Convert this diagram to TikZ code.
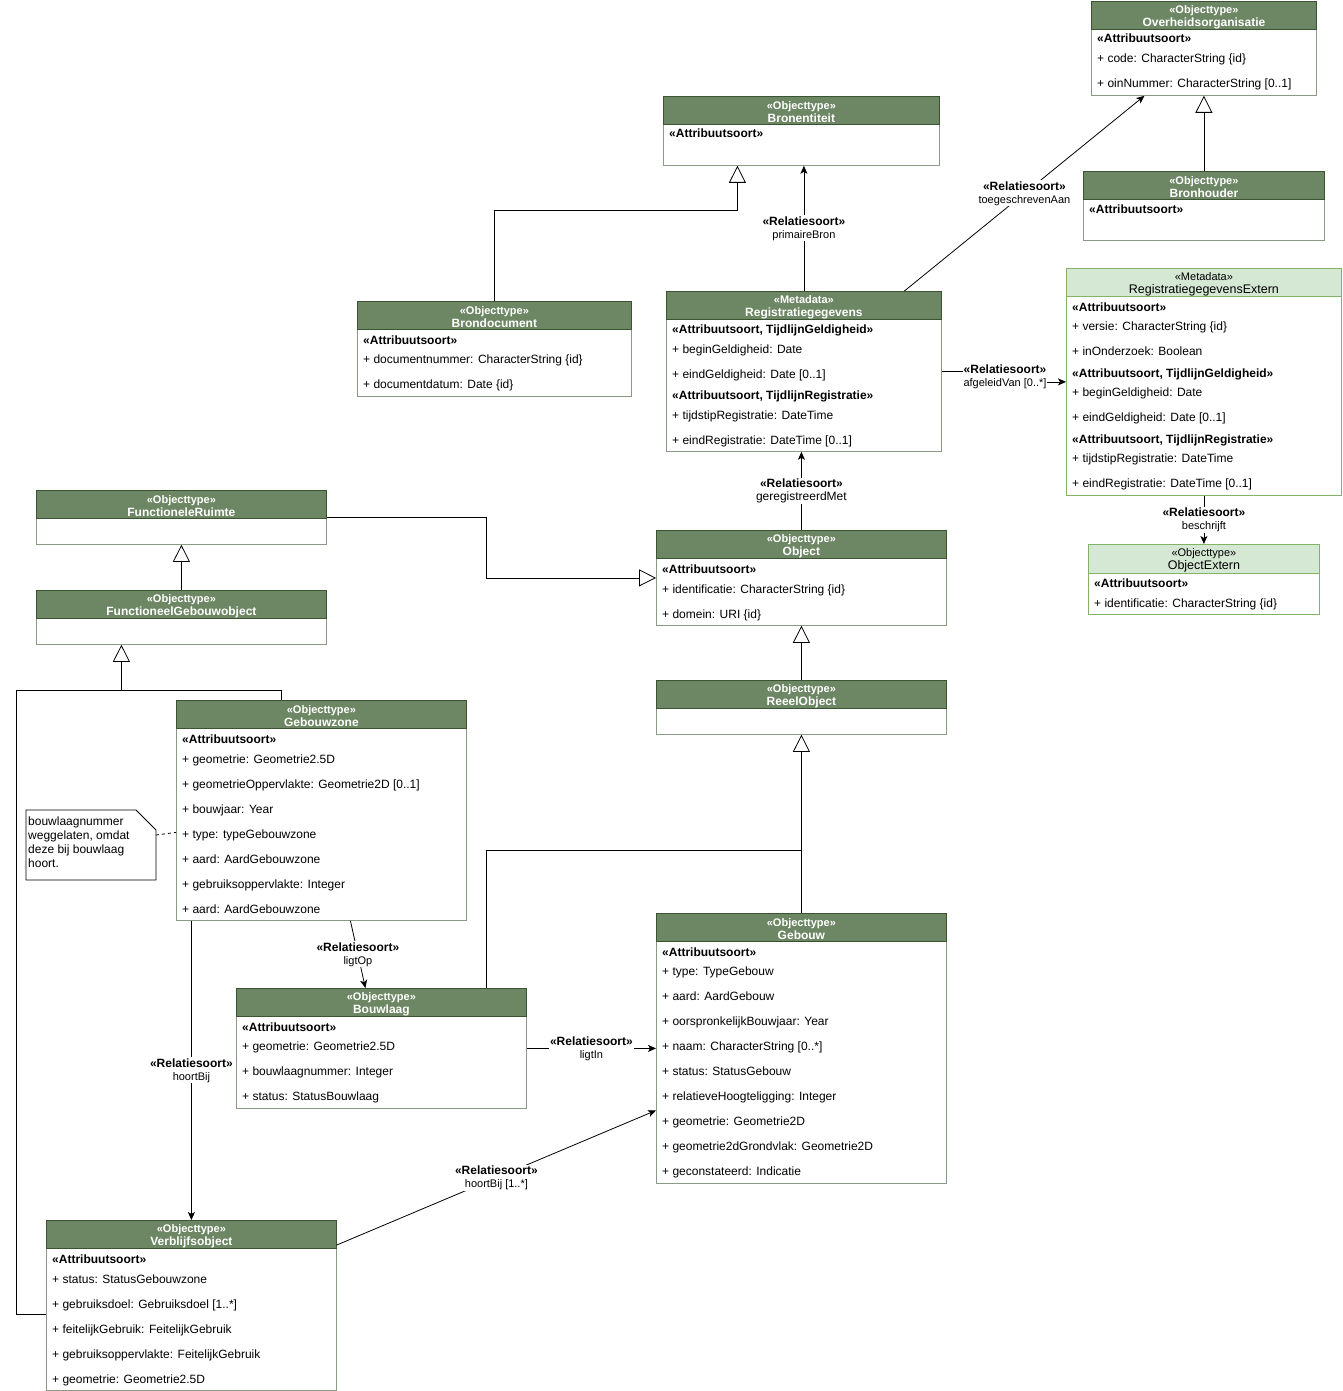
\documentclass[tikz,border=0pt]{standalone}
\usepackage{fontspec}
\setmainfont{Liberation Sans}
\usetikzlibrary{arrows.meta}
\definecolor{hdrfill}{HTML}{6D8764}
\definecolor{hdrline}{HTML}{3A5431}
\definecolor{boxline}{HTML}{8A9A85}
\definecolor{extfill}{HTML}{D5E8D4}
\definecolor{extline}{HTML}{82B366}
\newcommand{\umlhead}[2]{\rule{0pt}{11pt}«#1»\\{\fontsize{12}{13}\selectfont #2}}
\newcommand{\exthead}[2]{\rule{0pt}{11pt}«#1»\\{\fontsize{12.5}{13}\selectfont #2}}
\newcommand{\rellabel}[1]{\textbf{«Relatiesoort»}\\{\fontsize{11}{12}\selectfont #1}}
\begin{document}
\begin{tikzpicture}[x=1pt,y=-1pt,
  box/.style={draw=boxline,fill=white,line width=0.8pt,anchor=north west,inner sep=0pt},
  hdr/.style={draw=hdrline,fill=hdrfill,text=white,line width=0.8pt,anchor=north west,
              inner sep=0pt,minimum height=28pt,align=center,font=\bfseries\fontsize{11}{13}\selectfont},
  extbox/.style={box,draw=extline},
  exthdr/.style={hdr,draw=extline,fill=extfill,text=black,font=\fontsize{11}{13}\selectfont},
  stype/.style={anchor=base west,inner sep=0pt,yshift=-4pt,font=\bfseries\fontsize{12}{14}\selectfont},
  attr/.style={anchor=base west,inner sep=0pt,yshift=-4pt,font=\fontsize{12}{14}\selectfont},
  rel/.style={fill=white,align=center,inner sep=1pt,font=\fontsize{12}{13}\selectfont},
  conn/.style={draw=black,line width=0.8pt},
  gen/.style={conn,-{Triangle[open,length=17pt,width=17pt]}},
  assoc/.style={conn,-{Stealth[length=8pt,width=7pt,inset=2pt]}}]
\useasboundingbox (0,0) rectangle (1342,1391);

% Overheidsorganisatie
\node[box,minimum width=225,minimum height=94] (overheid) at (1091,1) {};
\node[hdr,minimum width=225] (overheid-h) at (overheid.north west) {\umlhead{Objecttype}{Overheidsorganisatie}};
\node[stype] (overheid-s) at (1097,39) {«Attribuutsoort»};
\foreach \t [count=\i from 0] in {{+ code: CharacterString \{id\}},{+ oinNummer: CharacterString [0..1]}}
  \node[attr] (overheid-\i) at (1097,{59+25*\i}) {\t};

% Bronhouder
\node[box,minimum width=241,minimum height=69] (bronhouder) at (1083,171) {};
\node[hdr,minimum width=241] (bronhouder-h) at (bronhouder.north west) {\umlhead{Objecttype}{Bronhouder}};
\node[stype] (bronhouder-s) at (1089,209) {«Attribuutsoort»};

% Bronentiteit
\node[box,minimum width=276,minimum height=69] (bronentiteit) at (663,96) {};
\node[hdr,minimum width=276] (bronentiteit-h) at (bronentiteit.north west) {\umlhead{Objecttype}{Bronentiteit}};
\node[stype] (bronentiteit-s) at (669,134) {«Attribuutsoort»};

% Registratiegegevens
\node[box,minimum width=275,minimum height=160] (registratie) at (666,291) {};
\node[hdr,minimum width=275] (registratie-h) at (registratie.north west) {\umlhead{Metadata}{Registratiegegevens}};
\node[stype] (registratie-s1) at (672,329) {«Attribuutsoort, TijdlijnGeldigheid»};
\node[attr] (registratie-1) at (672,349) {+ beginGeldigheid: Date};
\node[attr] (registratie-2) at (672,374) {+ eindGeldigheid: Date [0..1]};
\node[stype] (registratie-s2) at (672,395) {«Attribuutsoort, TijdlijnRegistratie»};
\node[attr] (registratie-3) at (672,415) {+ tijdstipRegistratie: DateTime};
\node[attr] (registratie-4) at (672,440) {+ eindRegistratie: DateTime [0..1]};

% Brondocument
\node[box,minimum width=274,minimum height=95] (brondocument) at (357,301) {};
\node[hdr,minimum width=274] (brondocument-h) at (brondocument.north west) {\umlhead{Objecttype}{Brondocument}};
\node[stype] (brondocument-s) at (363,340) {«Attribuutsoort»};
\foreach \t [count=\i from 0] in {{+ documentnummer: CharacterString \{id\}},{+ documentdatum: Date \{id\}}}
  \node[attr] (brondocument-\i) at (363,{359+25*\i}) {\t};

% RegistratiegegevensExtern
\node[extbox,minimum width=275,minimum height=227] (regextern) at (1066,268) {};
\node[exthdr,minimum width=275] (regextern-h) at (regextern.north west) {\exthead{Metadata}{RegistratiegegevensExtern}};
\node[stype] (regextern-s1) at (1072,307) {«Attribuutsoort»};
\node[attr] (regextern-1) at (1072,326) {+ versie: CharacterString \{id\}};
\node[attr] (regextern-2) at (1072,351) {+ inOnderzoek: Boolean};
\node[stype] (regextern-s2) at (1072,373) {«Attribuutsoort, TijdlijnGeldigheid»};
\node[attr] (regextern-3) at (1072,392) {+ beginGeldigheid: Date};
\node[attr] (regextern-4) at (1072,417) {+ eindGeldigheid: Date [0..1]};
\node[stype] (regextern-s3) at (1072,439) {«Attribuutsoort, TijdlijnRegistratie»};
\node[attr] (regextern-5) at (1072,458) {+ tijdstipRegistratie: DateTime};
\node[attr] (regextern-6) at (1072,483) {+ eindRegistratie: DateTime [0..1]};

% ObjectExtern
\node[extbox,minimum width=231,minimum height=70] (objextern) at (1088,544) {};
\node[exthdr,minimum width=231,minimum height=29] (objextern-h) at (objextern.north west) {\exthead{Objecttype}{ObjectExtern}};
\node[stype] (objextern-s) at (1094,583) {«Attribuutsoort»};
\node[attr] (objextern-1) at (1094,603) {+ identificatie: CharacterString \{id\}};

% FunctioneleRuimte en FunctioneelGebouwobject
\node[box,minimum width=290,minimum height=54] (functruimte) at (36,490) {};
\node[hdr,minimum width=290] (functruimte-h) at (functruimte.north west) {\umlhead{Objecttype}{FunctioneleRuimte}};
\node[box,minimum width=290,minimum height=54] (functgebouw) at (36,590) {};
\node[hdr,minimum width=290] (functgebouw-h) at (functgebouw.north west) {\umlhead{Objecttype}{FunctioneelGebouwobject}};

% Object en ReeelObject
\node[box,minimum width=290,minimum height=95] (object) at (656,530) {};
\node[hdr,minimum width=290] (object-h) at (object.north west) {\umlhead{Objecttype}{Object}};
\node[stype] (object-s) at (662,569) {«Attribuutsoort»};
\foreach \t [count=\i from 0] in {{+ identificatie: CharacterString \{id\}},{+ domein: URI \{id\}}}
  \node[attr] (object-\i) at (662,{589+25*\i}) {\t};
\node[box,minimum width=290,minimum height=54] (reeel) at (656,680) {};
\node[hdr,minimum width=290] (reeel-h) at (reeel.north west) {\umlhead{Objecttype}{ReeelObject}};

% Gebouwzone
\node[box,minimum width=290,minimum height=220] (gebouwzone) at (176,700) {};
\node[hdr,minimum width=290] (gebouwzone-h) at (gebouwzone.north west) {\umlhead{Objecttype}{Gebouwzone}};
\node[stype] (gebouwzone-s) at (182,739) {«Attribuutsoort»};
\foreach \t [count=\i from 0] in {{+ geometrie: Geometrie2.5D},{+ geometrieOppervlakte: Geometrie2D [0..1]},
    {+ bouwjaar: Year},{+ type: typeGebouwzone},{+ aard: AardGebouwzone},
    {+ gebruiksoppervlakte: Integer},{+ aard: AardGebouwzone}}
  \node[attr] (gebouwzone-\i) at (182,{759+25*\i}) {\t};

% notitie
\draw[conn,fill=white] (26,810) -- (136,810) -- (156,830) -- (156,880) -- (26,880) -- cycle;
\node[anchor=north west,inner sep=0pt,align=left,font=\fontsize{12}{14}\selectfont] (note) at (28,817)
  {bouwlaagnummer\\weggelaten, omdat\\deze bij bouwlaag\\hoort.};
\coordinate (note-e) at (156,835);

% Bouwlaag
\node[box,minimum width=290,minimum height=120] (bouwlaag) at (236,988) {};
\node[hdr,minimum width=290] (bouwlaag-h) at (bouwlaag.north west) {\umlhead{Objecttype}{Bouwlaag}};
\node[stype] (bouwlaag-s) at (242,1027) {«Attribuutsoort»};
\foreach \t [count=\i from 0] in {{+ geometrie: Geometrie2.5D},{+ bouwlaagnummer: Integer},{+ status: StatusBouwlaag}}
  \node[attr] (bouwlaag-\i) at (242,{1046+25*\i}) {\t};

% Gebouw
\node[box,minimum width=290,minimum height=270] (gebouw) at (656,913) {};
\node[hdr,minimum width=290] (gebouw-h) at (gebouw.north west) {\umlhead{Objecttype}{Gebouw}};
\node[stype] (gebouw-s) at (662,952) {«Attribuutsoort»};
\foreach \t [count=\i from 0] in {{+ type: TypeGebouw},{+ aard: AardGebouw},{+ oorspronkelijkBouwjaar: Year},
    {+ naam: CharacterString [0..*]},{+ status: StatusGebouw},{+ relatieveHoogteligging: Integer},
    {+ geometrie: Geometrie2D},{+ geometrie2dGrondvlak: Geometrie2D},{+ geconstateerd: Indicatie}}
  \node[attr] (gebouw-\i) at (662,{971+25*\i}) {\t};

% Verblijfsobject
\node[box,minimum width=290,minimum height=170] (verblijf) at (46,1220) {};
\node[hdr,minimum width=290] (verblijf-h) at (verblijf.north west) {\umlhead{Objecttype}{Verblijfsobject}};
\node[stype] (verblijf-s) at (52,1259) {«Attribuutsoort»};
\foreach \t [count=\i from 0] in {{+ status: StatusGebouwzone},{+ gebruiksdoel: Gebruiksdoel [1..*]},
    {+ feitelijkGebruik: FeitelijkGebruik},{+ gebruiksoppervlakte: FeitelijkGebruik},{+ geometrie: Geometrie2.5D}}
  \node[attr] (verblijf-\i) at (52,{1279+25*\i}) {\t};

% generalisaties
\draw[gen] (bronhouder.north) -- (bronhouder.north |- overheid.south);
\draw[gen] (brondocument.north) |- ([xshift=-64,yshift=-45]bronentiteit.south) -- ([xshift=-64]bronentiteit.south);
\draw[gen] (functgebouw.north) -- (functruimte.south);
\draw[gen] (functruimte.east) -- ++(160,0) |- (object.west);
\draw[gen] (reeel.north) -- (object.south);
\draw[gen] (gebouw.north) -- (reeel.south);
\draw[conn] ([xshift=105]bouwlaag.north) |- ([yshift=63]gebouw.north);
\draw[gen] ([xshift=-40]gebouwzone.north) -- ++(0,-10) -| ([xshift=-60]functgebouw.south);
\draw[conn] ([yshift=-9]verblijf.west) -- ++(-30,0) |- ([xshift=-60,yshift=-46]functgebouw.south);

% relaties
\draw[assoc] ([xshift=100.5]registratie.north) -- node[rel] (rel-toeg) {\rellabel{toegeschrevenAan}} ([xshift=-59.5]overheid.south);
\draw[assoc] (registratie.north) -- node[rel] (rel-prim) {\rellabel{primaireBron}} (registratie.north |- bronentiteit.south);
\draw[assoc] (registratie.east) -| ([xshift=-61,yshift=5]regextern.west) node[rel] (rel-afg) {\rellabel{afgeleidVan [0..*]}} |- (regextern.west);
\draw[assoc] (object.north) -- node[rel] (rel-reg) {\rellabel{\fontsize{12}{13}\selectfont geregistreerdMet}} (object.north |- registratie.south);
\draw[assoc] (regextern.south) -- node[rel] (rel-beschr) {\rellabel{beschrijft}} (objextern.north);
\draw[assoc] ([xshift=29]gebouwzone.south) -- node[rel] (rel-ligtop) {\rellabel{ligtOp}} ([xshift=-16]bouwlaag.north);
\draw[assoc] ([xshift=-130]gebouwzone.south) -- node[rel] (rel-hoort) {\rellabel{hoortBij}} (verblijf.north);
\draw[assoc] (bouwlaag.east) -- node[rel] (rel-ligtin) {\rellabel{ligtIn}} (gebouw.west);
\draw[assoc] ([yshift=-25]verblijf.north east) -- node[rel] (rel-hoortbij) {\rellabel{hoortBij [1..*]}} ([yshift=-62]gebouw.west);
\draw[conn,dash pattern=on 3pt off 3pt] (note-e) -- ([yshift=-22]gebouwzone.west);
\end{tikzpicture}
\end{document}
